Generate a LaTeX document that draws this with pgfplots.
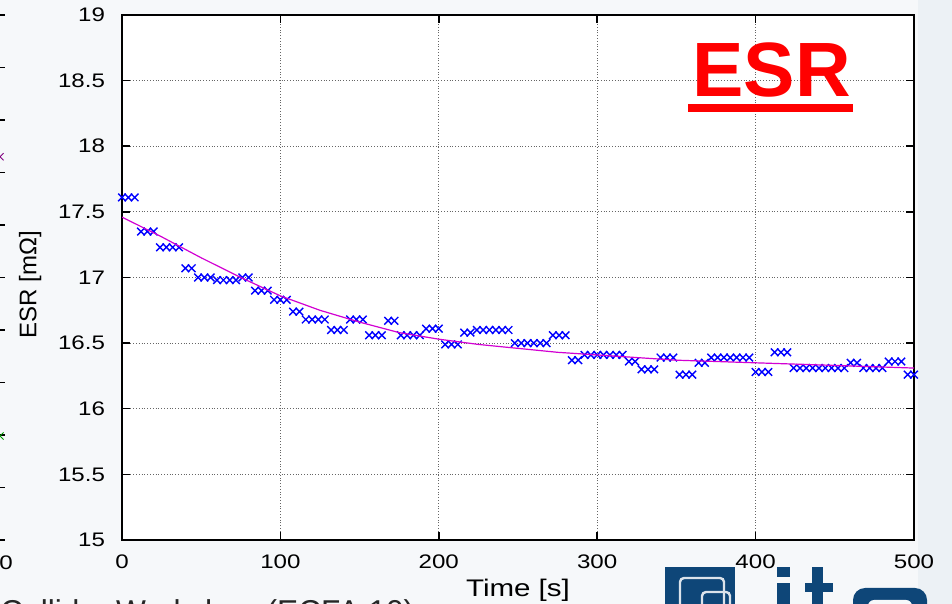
\documentclass[border=0pt]{standalone}
\usepackage{pgfplots}
\pgfplotsset{compat=1.18}
\usepackage{fontspec}
\setmainfont{Liberation Sans}
\newfontfamily\tickfont{Liberation Sans}[FakeStretch=1.23]

\definecolor{slidebg}{RGB}{246,248,250}
\definecolor{sideblue}{RGB}{236,241,245}
\definecolor{itpblue}{RGB}{14,70,120}
\definecolor{fitmag}{RGB}{210,0,210}

\pgfplotstableread{
t v
0 17.61
4 17.61
8 17.61
12 17.35
16 17.35
20 17.35
24 17.23
28 17.23
32 17.23
36 17.23
40 17.07
44 17.07
48 17.00
52 17.00
56 17.00
60 16.98
64 16.98
68 16.98
72 16.98
76 17.00
80 17.00
84 16.90
88 16.90
92 16.90
96 16.83
100 16.83
104 16.83
108 16.74
112 16.74
116 16.68
120 16.68
124 16.68
128 16.68
132 16.60
136 16.60
140 16.60
144 16.68
148 16.68
152 16.68
156 16.56
160 16.56
164 16.56
168 16.67
172 16.67
176 16.56
180 16.56
184 16.56
188 16.56
192 16.61
196 16.61
200 16.61
204 16.49
208 16.49
212 16.49
216 16.58
220 16.58
224 16.60
228 16.60
232 16.60
236 16.60
240 16.60
244 16.60
248 16.50
252 16.50
256 16.50
260 16.50
264 16.50
268 16.50
272 16.56
276 16.56
280 16.56
284 16.37
288 16.37
292 16.41
296 16.41
300 16.41
304 16.41
308 16.41
312 16.41
316 16.41
320 16.36
324 16.36
328 16.30
332 16.30
336 16.30
340 16.39
344 16.39
348 16.39
352 16.26
356 16.26
360 16.26
364 16.35
368 16.35
372 16.39
376 16.39
380 16.39
384 16.39
388 16.39
392 16.39
396 16.39
400 16.28
404 16.28
408 16.28
412 16.43
416 16.43
420 16.43
424 16.31
428 16.31
432 16.31
436 16.31
440 16.31
444 16.31
448 16.31
452 16.31
456 16.31
460 16.35
464 16.35
468 16.31
472 16.31
476 16.31
480 16.31
484 16.36
488 16.36
492 16.36
496 16.26
500 16.26
}\esrdata

\pgfplotstableread{
t v
0 17.46
25 17.31
50 17.15
75 17.00
100 16.86
125 16.75
150 16.66
175 16.58
200 16.53
225 16.49
250 16.46
275 16.43
300 16.41
325 16.39
350 16.37
375 16.36
400 16.35
425 16.34
450 16.33
475 16.32
500 16.31
}\fitdata

\begin{document}
\begin{tikzpicture}
\useasboundingbox (0pt,0pt) rectangle (476pt,302pt);
\fill[slidebg] (0pt,0pt) rectangle (476pt,302pt);
\fill[sideblue] (459pt,0pt) rectangle (476pt,302pt);

% partial neighbouring chart at the left edge
\foreach \k in {0,...,10} {
  \draw[black, line width=0.75pt] (0pt,32pt) ++(0pt,{\k*26.25pt}) -- ++(2.5pt,0pt);
}
\node[font=\tickfont\fontsize{9.8}{11}\selectfont] at (3pt,20.5pt) {0};
\begin{axis}[
  at={(-100pt,32pt)}, anchor=south west,
  scale only axis, width=100pt, height=262.5pt,
  xmin=0, xmax=1, ymin=0, ymax=10,
  hide axis, clip=false]
\addplot[only marks, mark=x, mark size=2.5pt, color=violet] coordinates {(1,7.3)};
\addplot[only marks, mark=x, mark size=2.5pt, color=green!60!black] coordinates {(1,1.98)};
\end{axis}

\begin{axis}[
  at={(61pt,32pt)}, anchor=south west,
  scale only axis, width=396pt, height=262.5pt,
  xmin=0, xmax=500, ymin=15, ymax=19,
  xtick={0,100,...,500}, ytick={15,15.5,...,19},
  grid=major,
  grid style={densely dotted, black!60, line width=0.55pt},
  axis background/.style={fill=white},
  axis line style={line width=0.75pt},
  major tick length=4pt,
  tick style={black, line width=0.75pt},
  tick align=inside,
  /pgf/number format/assume math mode=true,
  ticklabel style={font=\tickfont\fontsize{9.8}{11}\selectfont},
  xticklabel style={yshift=-4pt},
  yticklabel style={xshift=-5pt},
  clip mode=individual,
  xlabel={Time [s]},
  ylabel={ESR [mΩ]},
  xlabel style={at={(axis description cs:0.5,-0.095)}, anchor=center,
    font=\tickfont\fontsize{12}{14}\selectfont},
  ylabel style={at={(axis description cs:-0.116,0.486)}, anchor=center,
    font=\fontsize{12}{14}\selectfont},
]
\addplot[only marks, mark=x, mark size=2.7pt, color=blue,
  mark options={line width=0.7pt}] table[x=t, y=v] {\esrdata};
\addplot[fitmag, line width=0.6pt, no marks] table[x=t, y=v] {\fitdata};
\end{axis}

% title
\node[anchor=base west, inner sep=0pt, text=red,
  font=\fontsize{38.5}{40}\selectfont\bfseries] at (346pt,253.5pt) {ESR};
\fill[red] (344pt,246pt) rectangle (426.5pt,250pt);

% footer text (cut by page edge, as in the slide)
\node[anchor=base west, inner sep=0pt, text=black!85,
  font=\fontsize{15.8}{17}\selectfont] at (0pt,-9.3pt) {Collider Workshop (ECFA 10)};

% logo (partially visible)
\fill[itpblue] (332.5pt,0pt) rectangle (367.5pt,18.5pt);
\draw[white!85!itpblue, line width=1.2pt, rounded corners=2pt] (340pt,-3pt) rectangle (362pt,13pt);
\draw[white!85!itpblue, line width=1.2pt, rounded corners=2pt] (351pt,-3pt) rectangle (365pt,6pt);
\fill[itpblue] (388.5pt,13.5pt) rectangle (395pt,18.5pt);
\fill[itpblue] (388.5pt,0pt) rectangle (395pt,10.5pt);
\fill[itpblue] (406pt,0pt) rectangle (411.5pt,18.5pt);
\fill[itpblue] (402.5pt,6pt) rectangle (416.5pt,10.5pt);
\fill[itpblue, rounded corners=6pt] (426.5pt,-10pt) rectangle (463.5pt,8pt);
\fill[slidebg, rounded corners=3pt] (434pt,-10pt) rectangle (456pt,2pt);
\end{tikzpicture}
\end{document}
